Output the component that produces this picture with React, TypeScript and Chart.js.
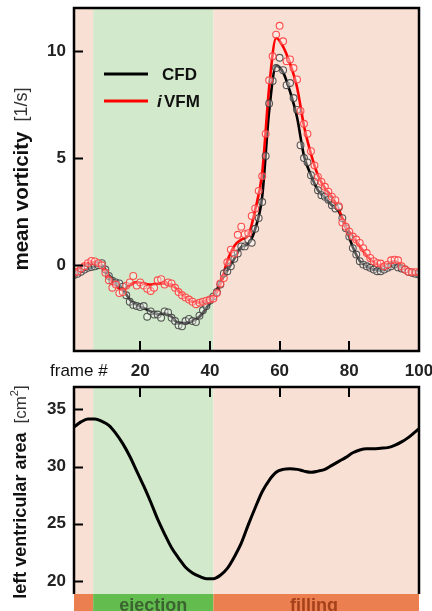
import React, { useEffect, useRef } from 'react';
import { Chart, registerables } from 'chart.js';

Chart.register(...registerables);

const FONT = "'Liberation Sans', Arial, sans-serif";

// frame numbers 1..100 (categories)
const frameNumbers = Array.from({ length: 100 }, (_, i) => i + 1);

// mean vorticity [1/s], one sample per frame
const cfdPoints = [
  -0.45, -0.4, -0.3, -0.2, -0.12, -0.08, -0.05, 0.0, 0.1, -0.2,
  -0.5, -0.72, -0.8, -0.85, -1.0, -1.4, -1.7, -1.85, -1.9, -1.95,
  -1.9, -2.4, -2.15, -2.3, -2.3, -2.45, -2.15, -2.2, -2.45, -2.6,
  -2.8, -2.85, -2.6, -2.5, -2.6, -2.65, -2.35, -2.1, -1.9, -1.65,
  -1.45, -1.25, -0.9, -0.38, -0.28, -0.05, 0.3, 0.55, 0.88, 0.88,
  1.2, 1.05, 1.7, 2.2, 2.95, 5.1, 7.55, 8.6, 9.2, 9.68,
  9.1, 8.4, 8.5, 7.8, 7.25, 5.6, 5.0, 4.8, 4.2, 3.9,
  3.5, 3.27, 3.2, 3.05, 2.8, 2.65, 2.7, 2.2, 1.73, 1.34,
  0.8, 0.5, 0.19, 0.03, -0.05, -0.12, -0.2, -0.28, -0.28, -0.2,
  -0.12, -0.05, 0.03, -0.1, -0.15, -0.2, -0.3, -0.35, -0.4, -0.43,
];
const ivfmPoints = [
  -0.35, -0.3, -0.15, -0.05, 0.1, 0.2, 0.18, 0.1, 0.0, -0.35,
  -0.7, -1.05, -0.9, -1.3, -1.25, -0.95, -0.8, -0.5, -0.95, -0.8,
  -0.95, -1.1, -1.2, -1.05, -0.7, -0.65, -0.9, -0.8, -0.85, -1.05,
  -1.25, -1.4, -1.5, -1.6, -1.7, -1.82, -1.75, -1.7, -1.65, -1.6,
  -1.55, -1.3, -0.85, -0.6, 0.14, 0.73, 0.54, 1.42, 1.8, 1.45,
  1.5, 2.3, 2.65, 3.47, 4.15, 6.13, 8.63, 9.75, 10.76, 11.17,
  10.45, 9.52, 9.6, 9.2, 8.67, 7.2, 6.6, 6.13, 5.32, 4.66,
  4.12, 3.89, 3.66, 3.43, 3.2, 3.04, 2.75, 2.0, 1.8, 1.57,
  1.34, 1.2, 1.04, 0.8, 0.57, 0.34, 0.19, 0.1, 0.08, -0.05,
  0.03, 0.23, 0.26, 0.23, -0.05, -0.2, -0.3, -0.32, -0.32, -0.32,
];

// smoothed curves
const lineFrames = [
  1, 3, 5, 7, 9, 11, 13, 15, 17, 19, 21, 23, 25, 27, 29, 31, 33, 35, 37, 39,
  41, 43, 45, 47, 49, 51, 53, 55, 57, 59, 61, 63, 65, 67, 69, 71, 73, 75, 77, 79,
  81, 83, 85, 87, 89, 91, 93, 95, 97, 99, 100,
];
const cfdLine = [
  -0.4, -0.3, -0.15, -0.05, 0.0, -0.45, -0.8, -1.1, -1.6, -1.85,
  -2.0, -2.15, -2.3, -2.25, -2.4, -2.7, -2.7, -2.6, -2.4, -2.0,
  -1.5, -0.8, -0.25, 0.3, 0.85, 1.0, 1.7, 3.2, 7.2, 9.3,
  9.0, 8.1, 6.9, 5.1, 4.2, 3.5, 3.15, 2.8, 2.5, 1.75,
  0.85, 0.2, -0.05, -0.2, -0.25, -0.1, 0.0, -0.1, -0.25, -0.4, -0.43,
];
const ivfmLine = [
  -0.3, -0.1, 0.1, 0.15, -0.05, -0.6, -0.95, -1.15, -0.9, -0.8,
  -0.85, -0.9, -0.85, -0.85, -0.9, -1.2, -1.5, -1.7, -1.75, -1.65,
  -1.5, -0.9, 0.2, 0.9, 1.2, 1.4, 2.6, 4.3, 8.3, 10.6,
  10.2, 9.4, 8.3, 6.5, 5.2, 4.2, 3.6, 3.2, 2.6, 1.8,
  1.35, 0.9, 0.45, 0.15, 0.0, 0.05, 0.2, 0.0, -0.25, -0.3, -0.3,
];

// left ventricular area [cm²]
const areaValues = [
  33.45, 33.9, 34.15, 34.15, 33.95, 33.6, 32.9, 32.0, 30.9, 29.6,
  28.3, 26.9, 25.4, 24.1, 22.9, 22.0, 21.2, 20.7, 20.4, 20.2,
  20.2, 20.5, 21.1, 22.1, 23.3, 24.9, 26.4, 27.8, 28.8, 29.5,
  29.75, 29.8, 29.75, 29.6, 29.5, 29.6, 29.75, 30.1, 30.45, 30.8,
  31.2, 31.45, 31.55, 31.55, 31.6, 31.65, 31.85, 32.15, 32.55, 33.05, 33.3,
];

const frameTicks = [20, 40, 60, 80, 100];
const vorticityTicks = [0, 5, 10];
const areaTicks = [20, 25, 30, 35];

// cardiac phases
const phaseBounds = [1, 6.5, 41, 100];
const phaseNames = ['', 'ejection', 'filling'];
const phaseKinds = ['filling', 'ejection', 'filling'];

const BG = { filling: '#F9E0D5', ejection: '#D2EACB' };
const BAR = { filling: '#EC7F4F', ejection: '#62BD4E' };
const BAR_TEXT = { filling: '#A4401A', ejection: '#3B6430' };

function drawBands(chart: any) {
  const { ctx, chartArea } = chart;
  const xs = chart.scales.x;
  ctx.save();
  for (let i = 0; i < phaseKinds.length; i++) {
    const x0 = xs.getPixelForValue(phaseBounds[i]);
    const x1 = xs.getPixelForValue(phaseBounds[i + 1]);
    ctx.fillStyle = (BG as any)[phaseKinds[i]];
    ctx.fillRect(x0, chartArea.top, x1 - x0, chartArea.bottom - chartArea.top);
  }
  ctx.restore();
}

function drawRotatedTitle(ctx: any, cx: number, cy: number, parts: any[]) {
  ctx.save();
  ctx.translate(cx, cy);
  ctx.rotate(-Math.PI / 2);
  ctx.textBaseline = 'middle';
  let total = 0;
  for (const p of parts) {
    ctx.font = p.font;
    total += ctx.measureText(p.text).width + (p.gap || 0);
  }
  let x = -total / 2;
  for (const p of parts) {
    ctx.font = p.font;
    ctx.fillStyle = p.color;
    ctx.fillText(p.text, x, p.dy || 0);
    x += ctx.measureText(p.text).width + (p.gap || 0);
  }
  ctx.restore();
}

const topPlugin = {
  id: 'topDecor',
  beforeDatasetsDraw(chart: any) {
    drawBands(chart);
  },
  afterDraw(chart: any) {
    const { ctx, chartArea } = chart;
    const xs = chart.scales.x;
    const ys = chart.scales.y;
    ctx.save();
    ctx.strokeStyle = '#000';
    ctx.lineWidth = 2;
    ctx.beginPath();
    for (const v of vorticityTicks) {
      const y = Math.round(ys.getPixelForValue(v)) + 0.5;
      ctx.moveTo(chartArea.left, y);
      ctx.lineTo(chartArea.left + 9, y);
    }
    for (const v of frameTicks) {
      if (v >= 100) continue;
      const x = Math.round(xs.getPixelForValue(v));
      ctx.moveTo(x, chartArea.bottom);
      ctx.lineTo(x, chartArea.bottom - 10);
    }
    ctx.stroke();
    ctx.lineWidth = 2.5;
    ctx.strokeRect(chartArea.left, chartArea.top, chartArea.right - chartArea.left, chartArea.bottom - chartArea.top);

    // legend
    ctx.lineWidth = 3;
    ctx.strokeStyle = '#000';
    ctx.beginPath();
    ctx.moveTo(104, 74);
    ctx.lineTo(148, 74);
    ctx.stroke();
    ctx.strokeStyle = '#FF0000';
    ctx.beginPath();
    ctx.moveTo(104, 101);
    ctx.lineTo(148, 101);
    ctx.stroke();
    ctx.textBaseline = 'middle';
    ctx.fillStyle = '#111';
    ctx.font = `bold 17px ${FONT}`;
    ctx.fillText('CFD', 162, 75);
    ctx.font = `italic bold 17px ${FONT}`;
    ctx.fillText('i', 157, 102);
    ctx.font = `bold 17px ${FONT}`;
    ctx.fillText('VFM', 164, 102);

    // frame # label
    ctx.font = `17px ${FONT}`;
    ctx.fillStyle = '#111';
    ctx.fillText('frame #', 50, 371);

    drawRotatedTitle(ctx, 22, 179, [
      { text: 'mean vorticity', font: `bold 20.5px ${FONT}`, color: '#111', gap: 10 },
      { text: '[1/s]', font: `18px ${FONT}`, color: '#333' },
    ]);
    ctx.restore();
  },
};

const bottomPlugin = {
  id: 'bottomDecor',
  beforeDatasetsDraw(chart: any) {
    drawBands(chart);
  },
  afterDraw(chart: any) {
    const { ctx, chartArea } = chart;
    const xs = chart.scales.x;
    const ys = chart.scales.y;
    ctx.save();
    // phase bar
    const barTop = chartArea.bottom;
    const barBottom = chart.height;
    for (let i = 0; i < phaseKinds.length; i++) {
      const x0 = xs.getPixelForValue(phaseBounds[i]);
      const x1 = xs.getPixelForValue(phaseBounds[i + 1]);
      ctx.fillStyle = (BAR as any)[phaseKinds[i]];
      ctx.fillRect(x0, barTop, x1 - x0, barBottom - barTop);
      if (phaseNames[i]) {
        ctx.fillStyle = (BAR_TEXT as any)[phaseKinds[i]];
        ctx.font = `bold 18px ${FONT}`;
        ctx.textAlign = 'center';
        ctx.textBaseline = 'alphabetic';
        const cx = phaseKinds[i] === 'filling' ? 314 : (x0 + x1) / 2;
        ctx.fillText(phaseNames[i], cx, barBottom + 0);
      }
    }
    ctx.textAlign = 'left';
    // ticks
    ctx.strokeStyle = '#000';
    ctx.lineWidth = 2;
    ctx.beginPath();
    for (const v of areaTicks) {
      const y = Math.round(ys.getPixelForValue(v)) + 0.5;
      ctx.moveTo(chartArea.left, y);
      ctx.lineTo(chartArea.left + 9, y);
    }
    for (const v of frameTicks) {
      if (v >= 100) continue;
      const x = Math.round(xs.getPixelForValue(v));
      ctx.moveTo(x, chartArea.top);
      ctx.lineTo(x, chartArea.top + 10);
    }
    ctx.stroke();
    ctx.lineWidth = 2.5;
    ctx.beginPath();
    ctx.moveTo(chartArea.left, chartArea.bottom);
    ctx.lineTo(chartArea.left, chartArea.top);
    ctx.lineTo(chartArea.right, chartArea.top);
    ctx.lineTo(chartArea.right, chartArea.bottom);
    ctx.stroke();

    drawRotatedTitle(ctx, 21, 107, [
      { text: 'left ventricular area', font: `bold 18px ${FONT}`, color: '#111', gap: 9 },
      { text: '[cm', font: `17px ${FONT}`, color: '#333' },
      { text: '2', font: `11px ${FONT}`, color: '#333', dy: -6 },
      { text: ']', font: `17px ${FONT}`, color: '#333' },
    ]);
    ctx.restore();
  },
};

const tickFont = { family: FONT, size: 17, weight: 'bold' as const };

function TopChart() {
  const ref = useRef<HTMLCanvasElement>(null);
  useEffect(() => {
    const chart = new Chart(ref.current as HTMLCanvasElement, {
      type: 'line',
      data: {
        datasets: [
          {
            label: 'iVFM points',
            data: frameNumbers.map((f, i) => ({ x: f, y: ivfmPoints[i] })),
            showLine: false,
            pointRadius: 3.4,
            pointBorderWidth: 1.1,
            pointBorderColor: 'rgba(255,60,60,0.9)',
            pointBackgroundColor: 'rgba(255,255,255,0.35)',
            order: 0,
          },
          {
            label: 'CFD points',
            data: frameNumbers.map((f, i) => ({ x: f, y: cfdPoints[i] })),
            showLine: false,
            pointRadius: 3.4,
            pointBorderWidth: 1.1,
            pointBorderColor: 'rgba(60,60,60,0.85)',
            pointBackgroundColor: 'rgba(255,255,255,0.35)',
            order: 1,
          },
          {
            label: 'iVFM',
            data: lineFrames.map((f, i) => ({ x: f, y: ivfmLine[i] })),
            borderColor: '#FF0000',
            borderWidth: 2.6,
            pointRadius: 0,
            cubicInterpolationMode: 'monotone',
            order: 2,
          },
          {
            label: 'CFD',
            data: lineFrames.map((f, i) => ({ x: f, y: cfdLine[i] })),
            borderColor: '#000000',
            borderWidth: 2.6,
            pointRadius: 0,
            cubicInterpolationMode: 'monotone',
            order: 3,
          },
        ],
      },
      options: {
        animation: false,
        responsive: false,
        devicePixelRatio: 1,
        layout: { padding: { left: 0, right: 13, top: 8, bottom: 0 } },
        plugins: { legend: { display: false }, tooltip: { enabled: false } },
        scales: {
          x: {
            type: 'linear',
            min: 1,
            max: 100,
            grid: { display: false, drawTicks: false },
            border: { display: false },
            ticks: { font: tickFont, color: '#222', padding: 10, maxRotation: 0 },
            afterBuildTicks: (s: any) => { s.ticks = frameTicks.map((v) => ({ value: v })); },
            afterFit: (s: any) => { s.height = 34; s.paddingLeft = 0; s.paddingRight = 0; },
          },
          y: {
            type: 'linear',
            min: -4,
            max: 12,
            grid: { display: false, drawTicks: false },
            border: { display: false },
            ticks: { font: tickFont, color: '#222', padding: 8 },
            afterBuildTicks: (s: any) => { s.ticks = vorticityTicks.map((v) => ({ value: v })); },
            afterFit: (s: any) => { s.width = 74; s.paddingTop = 0; s.paddingBottom = 0; },
          },
        },
      } as any,
      plugins: [topPlugin],
    });
    return () => chart.destroy();
  }, []);
  return <canvas ref={ref} width={432} height={385} style={{ position: 'absolute', left: 0, top: 0, width: 432, height: 385 }} />;
}

function BottomChart() {
  const ref = useRef<HTMLCanvasElement>(null);
  useEffect(() => {
    const chart = new Chart(ref.current as HTMLCanvasElement, {
      type: 'line',
      data: {
        datasets: [
          {
            label: 'LV area',
            data: lineFrames.map((f, i) => ({ x: f, y: areaValues[i] })),
            borderColor: '#000000',
            borderWidth: 3,
            pointRadius: 0,
            cubicInterpolationMode: 'monotone',
          },
        ],
      },
      options: {
        animation: false,
        responsive: false,
        devicePixelRatio: 1,
        layout: { padding: { left: 0, right: 13, top: 2, bottom: 17 } },
        plugins: { legend: { display: false }, tooltip: { enabled: false } },
        scales: {
          x: {
            type: 'linear',
            min: 1,
            max: 100,
            display: false,
          },
          y: {
            type: 'linear',
            min: 18.86,
            max: 36.95,
            grid: { display: false, drawTicks: false },
            border: { display: false },
            ticks: { font: tickFont, color: '#222', padding: 8 },
            afterBuildTicks: (s: any) => { s.ticks = areaTicks.map((v) => ({ value: v })); },
            afterFit: (s: any) => { s.width = 74; s.paddingTop = 0; s.paddingBottom = 0; },
          },
        },
      } as any,
      plugins: [bottomPlugin],
    });
    return () => chart.destroy();
  }, []);
  return <canvas ref={ref} width={432} height={226} style={{ position: 'absolute', left: 0, top: 385, width: 432, height: 226 }} />;
}

export default function App() {
  return (
    <div style={{ position: 'absolute', left: 0, top: 0, width: 432, height: 611, background: '#fff', overflow: 'hidden' }}>
      <TopChart />
      <BottomChart />
    </div>
  );
}
